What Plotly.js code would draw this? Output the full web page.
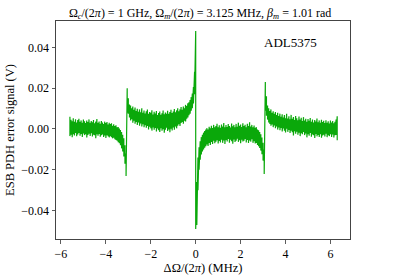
<!DOCTYPE html>
<html>
<head>
<meta charset="utf-8">
<script src="https://cdn.plot.ly/plotly-3.0.1.min.js"></script>
<style>html,body{margin:0;padding:0;background:#fff;}#chart{width:407px;height:276px;}</style>
</head>
<body>
<div id="chart"></div>
<script>
// Detuning grid (MHz): start and spacing of the read-off samples
const fStart = -5.60;
const fStep = 0.05;

// Upper envelope of the noisy error signal at each detuning (mV)
const sigHigh = [
  // -5.60 .. -3.15
  6.0,4.5,3.8,5.2,3.5,4.8,3.2,4.4,5.0,3.6,
  4.2,3.0,4.6,3.8,2.9,4.1,3.4,4.7,3.1,3.9,
  3.3,4.4,2.8,3.6,4.9,3.0,3.7,2.6,3.9,3.2,
  2.5,3.6,2.9,3.4,2.2,3.0,2.4,2.8,1.6,2.3,
  1.5,1.8,0.8,1.0,0.2,-0.5,-1.5,-2.8,-4.5,-8,
  // -3.10, -3.05
  -12,20,
  // -3.00 .. -0.05
  15,12,11.5,10.2,11.0,9.4,10.5,8.8,9.9,8.5,
  9.6,8.2,10.1,8.0,9.0,7.6,8.7,9.5,7.4,8.3,
  7.9,9.2,7.1,8.4,7.6,8.8,6.9,7.8,8.6,7.0,
  7.7,9.0,7.2,8.1,7.4,8.9,7.5,8.3,9.4,7.8,
  8.6,9.8,8.2,9.1,10.2,8.7,9.6,10.8,9.4,11.0,
  10.1,11.8,11.2,12.6,13.1,14.2,15.6,17.4,20.5,28,
  // 0.00
  48,
  // 0.05 .. 3.00
  -26,-14,-9,-6,-4,-2.8,-1.8,-1.0,-0.3,0.4,
  -0.2,1.1,0.3,1.6,0.5,2.0,0.8,1.4,2.6,0.9,
  1.8,0.6,2.2,1.2,2.9,0.8,1.9,1.0,2.4,1.5,
  0.7,2.7,1.3,2.0,0.9,2.5,1.1,3.1,1.6,2.2,
  1.0,2.8,1.4,2.1,0.8,2.6,1.5,3.3,1.2,2.0,
  0.9,1.7,0.6,0.9,-0.2,-0.6,-1.5,-2.6,-4.2,-6.8,
  // 3.05, 3.10
  -10,23,
  // 3.15 .. 6.30
  16,11.5,10.2,8.8,9.6,7.9,8.7,7.4,8.3,6.8,
  7.9,6.3,7.5,6.0,7.2,5.6,6.8,5.3,7.4,5.1,
  6.2,4.8,6.9,5.0,5.9,4.4,6.4,5.2,4.3,6.1,
  4.6,5.5,3.9,5.8,4.2,5.0,3.6,4.9,4.0,5.4,
  3.5,4.6,3.2,4.4,3.7,5.1,3.3,4.2,3.0,4.5,
  3.4,4.0,2.9,4.3,3.1,3.8,2.7,4.1,3.2,3.9,
  2.8,3.5,4.6,6.2
];

// Lower envelope of the noisy error signal at each detuning (mV)
const sigLow = [
  // -5.60 .. -3.15
  -3.5,-2.8,-4.0,-2.5,-3.2,-2.0,-3.6,-2.7,-1.9,-3.3,
  -2.4,-3.9,-2.2,-3.0,-2.6,-4.2,-2.9,-2.3,-3.4,-2.1,
  -3.7,-2.8,-3.1,-4.5,-2.6,-3.3,-2.4,-3.8,-3.0,-2.7,
  -3.9,-3.2,-4.4,-3.0,-3.6,-4.1,-3.5,-4.0,-4.6,-4.3,
  -5.0,-5.4,-5.8,-6.5,-7.0,-8.0,-9.5,-11,-13.5,-17,
  // -3.10, -3.05
  -23,8,
  // -3.00 .. -0.05
  7.5,5.6,4.2,4.8,3.1,4.0,2.6,3.5,2.0,3.2,
  1.6,2.7,1.2,2.4,0.9,1.9,0.6,1.5,-0.2,1.1,
  0.3,-0.8,0.7,-0.4,0.5,-1.2,0.2,-0.6,-1.5,0.4,
  -0.9,-0.1,-1.8,-0.3,0.6,-1.0,-0.2,-1.6,0.1,-0.7,
  0.8,-0.4,1.2,0.3,1.6,2.4,1.5,2.9,3.4,2.6,
  4.1,3.7,5.0,5.6,6.8,7.5,8.9,10.2,12.5,17,
  // 0.00
  -49,
  // 0.05 .. 3.00
  -47,-30,-20,-15,-12.5,-11,-10,-9.2,-8.5,-7.6,
  -8.3,-6.9,-7.8,-6.4,-7.4,-5.8,-7.0,-6.2,-5.5,-7.1,
  -5.9,-6.6,-5.2,-6.8,-5.6,-7.3,-5.4,-6.1,-4.9,-6.7,
  -5.3,-6.0,-7.2,-5.1,-6.4,-5.7,-4.8,-6.3,-5.5,-7.0,
  -5.2,-6.1,-5.8,-4.9,-6.6,-5.4,-6.9,-5.6,-6.2,-5.0,
  -6.8,-6.0,-7.1,-6.9,-7.8,-8.4,-9.3,-10.6,-12.4,-15.5,
  // 3.05, 3.10
  -22,9,
  // 3.15 .. 6.30
  6.5,4.6,3.2,2.5,1.6,2.2,0.9,1.7,0.4,1.3,
  -0.3,0.8,-0.6,0.5,-1.2,0.2,-0.9,-1.7,0.1,-1.4,
  -0.5,-2.0,-0.8,-1.6,-3.2,-1.1,-2.3,-1.3,-2.8,-1.8,
  -3.5,-2.1,-2.6,-1.5,-3.0,-2.2,-4.1,-2.5,-3.3,-2.0,
  -3.8,-2.7,-3.1,-4.4,-2.4,-3.6,-2.9,-3.9,-2.6,-4.3,
  -3.2,-2.8,-3.7,-2.3,-4.0,-3.0,-3.5,-2.6,-3.9,-2.7,
  -4.2,-3.1,-2.9,-5.5
];

const xTicks = [-6, -4, -2, 0, 2, 4, 6];
const yTicks = [-0.04, -0.02, 0.00, 0.02, 0.04];

// Build the trace: at each detuning the line visits upper then lower envelope (V)
const xs = [], ys = [];
for (let i = 0; i < sigHigh.length; i++) {
  const f = +(fStart + i * fStep).toFixed(3);
  xs.push(f, f);
  ys.push(sigHigh[i] / 1000, sigLow[i] / 1000);
}

const serif = '"Liberation Serif", "DejaVu Serif", "Times New Roman", serif';

const trace = {
  x: xs, y: ys, type: 'scatter', mode: 'lines',
  line: {color: '#0aa80a', width: 1.2},
  hoverinfo: 'skip'
};

const layout = {
  width: 407, height: 276,
  margin: {l: 56, r: 57, t: 21, b: 37, pad: 0},
  paper_bgcolor: '#fff', plot_bgcolor: '#fff',
  font: {family: serif, size: 12, color: '#000'},
  showlegend: false,
  title: {
    text: 'Ω<sub><i>c</i></sub>/(2<i>π</i>) = 1 GHz, Ω<sub><i>m</i></sub>/(2<i>π</i>) = 3.125 MHz, <i>β</i><sub><i>m</i></sub> = 1.01 rad',
    font: {family: serif, size: 12, color: '#000'},
    xref: 'paper', x: 0.49, xanchor: 'center',
    yref: 'container', y: 0.955, yanchor: 'middle'
  },
  xaxis: {
    range: [-6.22, 6.87],
    tickvals: xTicks,
    ticks: 'outside', ticklen: 3.5, tickwidth: 0.8, tickcolor: '#333',
    showline: true, linecolor: '#444', linewidth: 1, mirror: true,
    showgrid: false, zeroline: false,
    tickfont: {family: serif, size: 12},
    title: {text: 'ΔΩ/(2<i>π</i>) (MHz)', font: {family: serif, size: 12.5}, standoff: 0}
  },
  yaxis: {
    range: [-0.0539, 0.0529],
    tickvals: yTicks, tickformat: '.2f',
    ticks: 'outside', ticklen: 3.5, tickwidth: 0.8, tickcolor: '#333',
    showline: true, linecolor: '#444', linewidth: 1, mirror: true,
    showgrid: false, zeroline: false,
    tickfont: {family: serif, size: 12},
    title: {text: 'ESB PDH error signal (V)', font: {family: serif, size: 12.5}, standoff: 3}
  },
  annotations: [{
    text: 'ADL5375', x: 4.24, y: 0.0426, xref: 'x', yref: 'y',
    xanchor: 'center', yanchor: 'middle', showarrow: false,
    font: {family: serif, size: 13, color: '#000'}
  }]
};

Plotly.newPlot('chart', [trace], layout, {staticPlot: true, displayModeBar: false});
</script>
</body>
</html>
